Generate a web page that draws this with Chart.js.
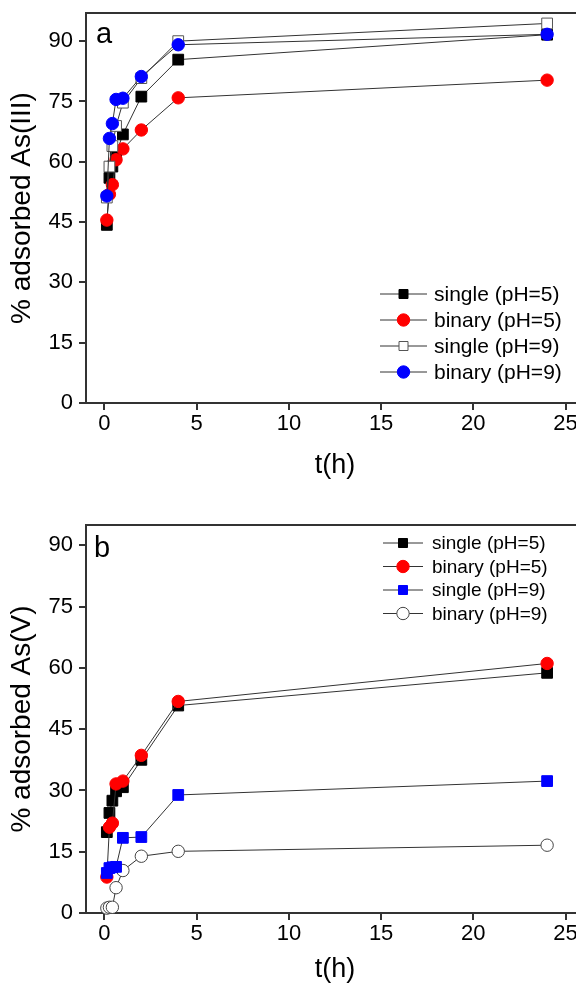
<!DOCTYPE html>
<html><head><meta charset="utf-8">
<script src="https://cdn.jsdelivr.net/npm/chart.js@4.4.1/dist/chart.umd.min.js"></script>
<style>
html,body{margin:0;padding:0;background:#fff;overflow:hidden;}
#wrap{width:576px;height:986px;overflow:hidden;position:relative;background:#fff;}
canvas{display:block;}
</style></head><body>
<div id="wrap">
<canvas id="ca" width="584" height="493" style="width:584px;height:493px"></canvas>
<canvas id="cb" width="584" height="493" style="width:584px;height:493px"></canvas>
</div>
<script>
// ---- data ----
const times = [0.13, 0.27, 0.43, 0.63, 1, 2, 4, 24];
const seriesLabelsA = ['single (pH=5)', 'binary (pH=5)', 'single (pH=9)', 'binary (pH=9)'];
const seriesLabelsB = ['single (pH=5)', 'binary (pH=5)', 'single (pH=9)', 'binary (pH=9)'];
// panel a: % adsorbed As(III)
const aSinglePH5 = [44.3, 56.0, 58.8, 62.0, 66.8, 76.2, 85.4, 91.6];
const aBinaryPH5 = [45.5, 51.9, 54.3, 60.5, 63.2, 67.9, 75.9, 80.3];
const aSinglePH9 = [51.1, 58.8, 63.9, 68.9, 74.7, 80.8, 90.0, 94.4];
const aBinaryPH9 = [51.5, 65.8, 69.5, 75.5, 75.8, 81.2, 89.1, 91.7];
// panel b: % adsorbed As(V)
const bSinglePH5 = [19.8, 24.5, 27.5, 29.8, 30.8, 37.5, 50.8, 58.8];
const bBinaryPH5 = [8.8, 21.0, 22.0, 31.6, 32.3, 38.6, 51.8, 61.1];
const bSinglePH9 = [9.8, 11.0, 11.2, 11.3, 18.4, 18.6, 28.9, 32.3];
const bBinaryPH9 = [1.2, 1.4, 1.4, 6.2, 10.4, 13.9, 15.1, 16.6];
// ticks
const xTicks = [0, 5, 10, 15, 20, 25];
const yTicks = [0, 15, 30, 45, 60, 75, 90];

const FONT = "'Liberation Sans', Arial, sans-serif";
const pts = arr => arr.map((v, i) => ({x: times[i], y: v}));

function ds(label, data, style, fill, border, order, radius) {
  return {
    label, data: pts(data), order,
    borderColor: '#333', borderWidth: 1,
    pointStyle: style, pointRadius: radius, pointHoverRadius: radius,
    pointBackgroundColor: fill, pointBorderColor: border, pointBorderWidth: 1,
    showLine: true, tension: 0, clip: false
  };
}

const framePlugin = {
  id: 'frame',
  beforeDatasetsDraw(chart) {
    const {ctx, chartArea: a} = chart;
    ctx.save();
    ctx.strokeStyle = '#333'; ctx.lineWidth = 2;
    ctx.strokeRect(a.left, a.top, a.right - a.left, a.bottom - a.top);
    ctx.restore();
  }
};

const legendPlugin = {
  id: 'customLegend',
  afterDatasetsDraw(chart, args, o) {
    const ctx = chart.ctx;
    ctx.save();
    chart.data.datasets.forEach((d, i) => {
      const y = o.y0 + i * o.dy;
      ctx.strokeStyle = '#333'; ctx.lineWidth = 1;
      ctx.beginPath(); ctx.moveTo(o.x0, y); ctx.lineTo(o.x1, y); ctx.stroke();
      const cx = (o.x0 + o.x1) / 2;
      ctx.fillStyle = d.pointBackgroundColor; ctx.strokeStyle = d.pointBorderColor; ctx.lineWidth = 1;
      ctx.beginPath();
      if (d.pointStyle === 'rect') { const s = o.sq / 2; ctx.rect(cx - s, y - s, 2 * s, 2 * s); }
      else ctx.arc(cx, y, o.cr, 0, Math.PI * 2);
      ctx.fill(); ctx.stroke();
      ctx.fillStyle = '#000'; ctx.font = o.size + 'px ' + FONT;
      ctx.textBaseline = 'middle'; ctx.textAlign = 'left';
      ctx.fillText(d.label, o.tx, y + 1);
    });
    // panel letter
    ctx.fillStyle = '#000'; ctx.font = o.letterSize + 'px ' + FONT;
    ctx.textBaseline = 'alphabetic'; ctx.textAlign = 'left';
    ctx.fillText(o.letter, o.lx, o.ly);
    ctx.restore();
  }
};

function makeChart(id, datasets, yMax, yTitle, padTop, xAxisH, xTitlePad, legendOpts) {
  return new Chart(document.getElementById(id), {
    type: 'scatter',
    data: {datasets},
    plugins: [framePlugin, legendPlugin],
    options: {
      responsive: false, animation: false, devicePixelRatio: 1,
      layout: {autoPadding: false, padding: {top: padTop, left: 0, right: 0, bottom: 0}},
      plugins: {legend: {display: false}, tooltip: {enabled: false}, customLegend: legendOpts},
      scales: {
        x: {
          type: 'linear', min: -1, max: 26,
          afterBuildTicks: s => { s.ticks = xTicks.map(v => ({value: v})); },
          afterFit: s => { s.height = xAxisH; s.paddingLeft = 0; s.paddingRight = 0; },
          grid: {drawOnChartArea: false, drawTicks: true, tickLength: 7, color: '#333', lineWidth: 2},
          border: {display: false},
          ticks: {padding: 1, color: '#000', font: {family: FONT, size: 22}, maxRotation: 0},
          title: {display: true, text: 't(h)', color: '#000', font: {family: FONT, size: 27}, padding: {top: 0, bottom: xTitlePad}}
        },
        y: {
          min: 0, max: yMax,
          afterBuildTicks: s => { s.ticks = yTicks.map(v => ({value: v})); },
          afterFit: s => { s.width = 86; s.paddingTop = 0; s.paddingBottom = 0; },
          grid: {drawOnChartArea: false, drawTicks: true, tickLength: 7, color: '#333', lineWidth: 2},
          border: {display: false},
          ticks: {padding: 6, color: '#000', font: {family: FONT, size: 22}},
          title: {display: true, text: yTitle, color: '#000', font: {family: FONT, size: 28}, padding: {top: 5, bottom: 0}}
        }
      }
    }
  });
}

makeChart('ca', [
  ds(seriesLabelsA[0], aSinglePH5, 'rect', '#000000', '#000000', 3, 7.6),
  ds(seriesLabelsA[1], aBinaryPH5, 'circle', '#ff0000', '#ff0000', 2, 6.2),
  ds(seriesLabelsA[2], aSinglePH9, 'rect', '#ffffff', '#555555', 1, 7.6),
  ds(seriesLabelsA[3], aBinaryPH9, 'circle', '#0000ff', '#0000ff', 0, 6.2)
], 97, '% adsorbed As(III)', 13, 90, 11,
  {x0: 380, x1: 427, y0: 294, dy: 26, tx: 434, size: 21, sq: 9, cr: 6.2, letter: 'a', lx: 96, ly: 43, letterSize: 29});

makeChart('cb', [
  ds(seriesLabelsB[0], bSinglePH5, 'rect', '#000000', '#000000', 2, 7.6),
  ds(seriesLabelsB[1], bBinaryPH5, 'circle', '#ff0000', '#ff0000', 1, 6.2),
  ds(seriesLabelsB[2], bSinglePH9, 'rect', '#0000ff', '#0000ff', 0, 7.6),
  ds(seriesLabelsB[3], bBinaryPH9, 'circle', '#ffffff', '#444444', 3, 6.2)
], 95, '% adsorbed As(V)', 32, 73, 0,
  {x0: 383, x1: 423, y0: 50, dy: 23.5, tx: 432, size: 19, sq: 9, cr: 6.2, letter: 'b', lx: 94, ly: 64, letterSize: 29});
</script>
</body></html>
